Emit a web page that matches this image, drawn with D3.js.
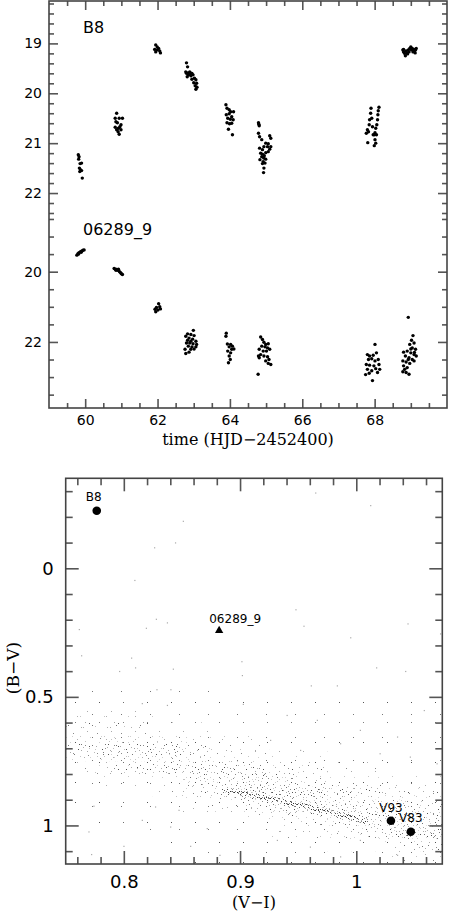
<!DOCTYPE html>
<html>
<head>
<meta charset="utf-8">
<script src="https://d3js.org/d3.v7.min.js"></script>
<style>
  body { margin: 0; background: #fff; }
  .tick text { font-family: "DejaVu Sans", sans-serif; fill: #000; }
  .tick line { stroke: #555; stroke-width: 1.6; }
  .domain { display: none; }
</style>
</head>
<body>
<script>

// ---- light curves (time HJD-2452400, magnitude) ----
var b8 = [
  [59.81,21.23],[59.83,21.27],[59.82,21.32],[59.86,21.41],[59.9,21.4],[59.84,21.5],[59.87,21.53],[59.85,21.57],[59.9,21.55],[59.92,21.7],
  [60.87,20.4],[60.83,20.5],[60.94,20.5],[61.03,20.5],[60.85,20.57],[60.89,20.59],[60.99,20.63],[60.83,20.68],[60.92,20.7],[60.96,20.67],[60.87,20.73],[60.99,20.73],[60.91,20.77],[60.94,20.82],
  [61.95,19.03],[61.99,19.07],[62.03,19.1],[61.92,19.12],[61.99,19.13],[62.06,19.15],[61.95,19.17],[62.08,19.19],
  [62.8,19.39],[62.83,19.47],[62.78,19.57],[62.84,19.59],[62.89,19.57],[62.95,19.6],[62.85,19.63],[62.92,19.65],[62.98,19.63],[62.82,19.67],[63.02,19.7],[62.95,19.72],[63.06,19.73],[63.0,19.79],[63.08,19.8],[63.04,19.85],[63.09,19.88],[63.06,19.92],[62.87,19.61],[62.9,19.62],[62.93,19.6],[62.8,19.6],
  [63.89,20.23],[63.92,20.3],[63.98,20.33],[64.02,20.37],[64.1,20.37],[63.9,20.43],[63.98,20.41],[64.05,20.47],[63.94,20.5],[64.01,20.52],[64.09,20.53],[63.92,20.59],[63.99,20.61],[64.05,20.6],[63.96,20.72],[64.07,20.83],
  [64.79,20.59],[64.81,20.65],[64.79,20.8],[64.82,20.87],[64.88,20.93],[65.1,20.85],[65.13,20.9],[64.99,21.0],[65.06,21.01],[64.94,21.07],[65.04,21.07],[65.13,21.07],[64.82,21.1],[64.9,21.13],[65.1,21.12],[64.85,21.2],[64.99,21.19],[65.06,21.17],[64.88,21.27],[64.94,21.3],[64.83,21.33],[64.92,21.37],[64.99,21.32],[64.9,21.41],[64.97,21.4],[64.94,21.5],[64.93,21.59],[64.8,20.62],[64.9,21.22],[64.95,21.25],
  [67.9,20.3],[67.89,20.4],[67.92,20.5],[67.86,20.53],[67.85,20.63],[67.8,20.73],[67.83,20.77],[67.77,20.8],[67.81,20.99],[67.94,20.67],[67.96,20.83],
  [68.12,20.28],[68.1,20.35],[68.09,20.43],[68.08,20.53],[68.06,20.63],[68.03,20.7],[68.01,20.79],[67.99,20.83],[68.05,20.83],[68.01,20.93],[67.99,21.05],[68.03,21.0],
  [68.78,19.13],[68.8,19.17],[68.83,19.2],[68.85,19.25],[68.87,19.15],[68.9,19.19],[68.93,19.13],[68.97,19.1],[69.0,19.07],[69.02,19.13],[69.06,19.17],[69.09,19.12],[69.13,19.13],[69.15,19.1],[69.12,19.19],[68.95,19.17],[68.91,19.21],[68.8,19.12],[69.04,19.1],[69.1,19.15]
];

var s06289 = [
  [59.77,19.53],[59.8,19.49],[59.83,19.46],[59.87,19.43],[59.91,19.41],[59.94,19.39],[59.97,19.38],[59.82,19.5],[59.89,19.45],
  [60.8,19.91],[60.84,19.93],[60.87,19.94],[60.89,19.95],[60.92,19.97],[60.95,20.0],[60.98,20.03],[61.0,20.06],[61.03,20.08],[60.85,19.96],[60.92,19.93],
  [62.03,20.91],[61.97,21.02],[62.06,21.0],[61.93,21.07],[62.01,21.09],[62.08,21.06],[61.95,21.14],
  [62.99,21.67],[62.83,21.77],[62.92,21.79],[63.01,21.82],[62.78,21.84],[62.87,21.89],[62.97,21.92],[62.83,21.95],[62.92,21.98],[63.06,21.98],[62.8,22.03],[62.89,22.03],[62.98,22.05],[63.08,22.07],[62.85,22.12],[62.95,22.14],[63.06,22.14],[62.76,22.21],[62.92,22.21],[63.01,22.2],[62.78,22.33],[62.87,22.29],
  [63.9,21.75],[63.89,21.84],[63.93,22.06],[64.02,22.07],[64.07,22.12],[64.11,22.2],[63.98,22.14],[63.94,22.26],[64.02,22.31],[63.98,22.4],[64.01,22.5],[63.96,22.59],[64.05,22.21],
  [64.85,21.86],[64.9,21.93],[64.94,22.01],[64.99,22.07],[65.06,22.05],[64.88,22.12],[64.97,22.14],[65.04,22.17],[64.81,22.21],[64.92,22.26],[65.01,22.26],[65.1,22.21],[64.79,22.4],[64.85,22.36],[64.94,22.4],[65.04,22.42],[65.08,22.5],[64.99,22.54],[65.06,22.61],[65.13,22.64],[64.81,22.45],[64.78,22.92],
  [68.01,22.07],[67.8,22.36],[67.86,22.4],[67.96,22.38],[68.05,22.31],[67.83,22.5],[67.92,22.48],[68.01,22.54],[68.1,22.5],[67.77,22.64],[67.86,22.66],[67.98,22.68],[68.12,22.64],[67.8,22.78],[67.92,22.82],[68.03,22.76],[68.14,22.78],[67.75,22.93],[67.85,22.89],[67.94,23.1],[68.08,22.87],
  [68.93,21.3],[69.06,21.82],[69.02,21.95],[69.09,22.03],[68.97,22.07],[69.04,22.17],[69.13,22.21],[68.9,22.26],[69.0,22.31],[69.09,22.36],[69.15,22.4],[68.8,22.29],[68.85,22.4],[68.95,22.45],[69.04,22.5],[68.78,22.54],[68.87,22.57],[68.97,22.61],[69.09,22.54],[68.8,22.68],[68.9,22.73],[68.78,22.85],[68.87,22.87],[68.95,22.92],[68.83,22.78],[69.0,22.2],[69.1,22.3],[68.93,22.5]
];

var timeMajor = [60, 62, 64, 66, 68];
var mag1Major = [19, 20, 21, 22];
var mag2Major = [20, 22];

// ---- colour-colour diagram ----
var stars = [
  { name: "B8",      vi: 0.7767, bv: -0.224, shape: "circle",   dx: -3, dy: -10 },
  { name: "06289_9", vi: 0.882,  bv: 0.242,  shape: "triangle", dx: 16, dy: -8 },
  { name: "V93",     vi: 1.0298, bv: 0.982,  shape: "circle",   dx: 0,  dy: -8.5 },
  { name: "V83",     vi: 1.0469, bv: 1.0245, shape: "circle",   dx: 0,  dy: -9.5 }
];

// density of the field-star cloud, bins of 0.025 in V-I and 0.05 in B-V (0-9)
var cloudVI = [0.75,0.775,0.8,0.825,0.85,0.875,0.9,0.925,0.95,0.975,1.0,1.025,1.05,1.075];
var cloudBV = [0.45,0.5,0.55,0.6,0.65,0.7,0.75,0.8,0.85,0.9,0.95,1.0,1.05,1.1,1.15];
var cloudDensity = [
  [1,1,1,1,1,0,0,0,0,0,0,0,0],
  [1,1,1,1,1,1,1,1,1,1,1,1,1],
  [2,2,2,1,1,1,1,1,1,1,1,1,1],
  [3,3,3,2,2,1,1,1,1,1,1,1,1],
  [4,5,4,4,3,2,2,1,1,1,1,1,1],
  [4,5,5,5,4,3,3,2,2,1,1,1,1],
  [2,3,4,5,5,5,4,3,3,2,2,1,1],
  [1,2,2,3,5,5,6,5,4,3,3,2,2],
  [1,1,1,2,3,5,7,6,6,5,4,3,3],
  [1,1,1,1,2,3,4,6,6,6,5,5,4],
  [0,1,1,1,1,1,2,3,4,5,6,6,5],
  [0,0,1,1,1,1,1,2,2,3,4,6,6],
  [0,0,0,1,1,1,1,1,1,2,2,3,4],
  [0,0,0,0,1,1,1,1,1,1,1,2,2]
];

// dense sequence running through the cloud
var ridgeVI = [0.888, 0.91, 0.94, 0.97, 1.0, 1.01];
var ridgeBV = [0.862, 0.882, 0.91, 0.94, 0.975, 0.985];

// scattered field stars outside the cloud
var fieldVI = [0.9646,1.0119,0.8507,0.844,0.826,0.809,0.9476,0.9545,1.044,0.837,0.8275,0.8189,0.7612,0.9947,0.7632,0.8062,0.8421,0.9011,0.7959,0.8096,1.017,1.042,0.9608,0.9832,0.828,0.84,1.072,0.9015,
  0.7738,0.8154,0.837,0.9023,0.7695,0.7996,0.8713,0.8822,0.857,0.8268,0.847,0.8154,0.7718,0.8398,
  0.94,0.966,1.003,1.035,1.058,0.986,0.9516,1.046,1.069,0.9258,1.02,0.96,0.986,1.035,1.003,0.9316];
var fieldBV = [-0.295,-0.246,-0.185,-0.101,-0.082,0.045,0.159,0.223,0.214,0.21,0.196,0.231,0.236,0.268,0.338,0.347,0.39,0.361,0.399,0.385,0.385,0.399,0.455,0.455,0.47,0.47,0.253,0.415,
  0.923,0.524,0.531,0.527,1.023,1.079,1.01,1.114,1.079,0.926,0.939,0.978,1.111,1.004,
  0.57,0.589,0.628,0.654,0.551,0.68,0.706,0.732,0.758,0.667,0.719,1.082,1.12,1.114,1.056,1.056];

var cmdXMajor = [0.8, 0.9, 1.0];
var cmdYMajor = [0, 0.5, 1];

var w = 450, h = 913;
var svg = d3.select("body").append("svg")
  .attr("width", w)
  .attr("height", h)
  .style("display", "block");

function near(a, list) { return list.some(function(v) { return Math.abs(v - a) < 1e-6; }); }

// ---------------- light curves ----------------
var tx = d3.scaleLinear().domain([59, 70]).range([49, 447]);
var y1 = d3.scaleLinear().domain([18.15, 22.4]).range([1, 213]);
var y2 = d3.scaleLinear().domain([18.33, 23.88]).range([213, 408]);

var timeMinor = d3.range(119, 140).map(function(i) { return i / 2; }).filter(function(v) { return !near(v, timeMajor); });
var mag1Minor = d3.range(91, 113).map(function(i) { return i / 5; }).filter(function(v) { return !near(v, mag1Major); });
var mag2Minor = d3.range(37, 48).map(function(i) { return i / 2; }).filter(function(v) { return !near(v, mag2Major); });

var lc = svg.append("g");
var fmtInt = d3.format("d");

// panel 1 (B8): y ticks on left/right, x ticks at the top
var p1 = lc.append("g");
p1.append("g").attr("transform", "translate(0,1)")
  .call(d3.axisTop(tx).tickValues(timeMinor).tickSize(-5).tickFormat(""));
p1.append("g").attr("transform", "translate(0,1)")
  .call(d3.axisTop(tx).tickValues(timeMajor).tickSize(-9).tickFormat(""));
[[d3.axisLeft, 49, true], [d3.axisRight, 447, false]].forEach(function(a) {
  p1.append("g").attr("transform", "translate(" + a[1] + ",0)")
    .call(a[0](y1).tickValues(mag1Minor).tickSize(-5).tickFormat(""));
  p1.append("g").attr("transform", "translate(" + a[1] + ",0)")
    .call(a[0](y1).tickValues(mag1Major).tickSize(-9).tickPadding(7).tickFormat(a[2] ? fmtInt : ""))
    .selectAll("text").style("font-size", "14px");
});

// panel 2 (06289_9): y ticks left/right, x ticks at the bottom
var p2 = lc.append("g");
p2.append("g").attr("transform", "translate(0,408)")
  .call(d3.axisBottom(tx).tickValues(timeMinor).tickSize(-5).tickFormat(""));
p2.append("g").attr("transform", "translate(0,408)")
  .call(d3.axisBottom(tx).tickValues(timeMajor).tickSize(-9).tickPadding(7).tickFormat(fmtInt))
  .selectAll("text").style("font-size", "14px");
[[d3.axisLeft, 49, true], [d3.axisRight, 447, false]].forEach(function(a) {
  p2.append("g").attr("transform", "translate(" + a[1] + ",0)")
    .call(a[0](y2).tickValues(mag2Minor).tickSize(-5).tickFormat(""));
  p2.append("g").attr("transform", "translate(" + a[1] + ",0)")
    .call(a[0](y2).tickValues(mag2Major).tickSize(-9).tickPadding(7).tickFormat(a[2] ? fmtInt : ""))
    .selectAll("text").style("font-size", "14px");
});
lc.selectAll(".domain").remove();

lc.append("rect")
  .attr("x", 49).attr("y", 1).attr("width", 398).attr("height", 407)
  .attr("fill", "none").attr("stroke", "#444").attr("stroke-width", 1.6);

lc.append("g").selectAll("circle").data(b8).enter().append("circle")
  .attr("cx", function(d) { return tx(d[0]); })
  .attr("cy", function(d) { return y1(d[1]); })
  .attr("r", 1.7).attr("fill", "#000");

lc.append("g").selectAll("circle").data(s06289).enter().append("circle")
  .attr("cx", function(d) { return tx(d[0]); })
  .attr("cy", function(d) { return y2(d[1]); })
  .attr("r", 1.7).attr("fill", "#000");

lc.append("text").attr("x", 83).attr("y", 32.5).text("B8")
  .style("font-family", "DejaVu Sans").style("font-size", "16px");
lc.append("text").attr("x", 83).attr("y", 235).text("06289_9")
  .style("font-family", "DejaVu Sans").style("font-size", "16px");

lc.append("text").attr("x", 248).attr("y", 445).attr("text-anchor", "middle")
  .text("time (HJD\u22122452400)")
  .style("font-family", "DejaVu Serif").style("font-size", "16px");

// ---------------- colour-colour diagram ----------------
var cx = d3.scaleLinear().domain([0.75, 1.074]).range([65.7, 442.3]);
var cy = d3.scaleLinear().domain([-0.35, 1.15]).range([478.3, 864]);

var defs = svg.append("defs");
defs.append("clipPath").attr("id", "cmdclip").append("rect")
  .attr("x", 65.7).attr("y", 478.3).attr("width", 376.6).attr("height", 385.7);

// speckle textures for the cloud: two tiles of different size so the grain doesn't line up
var speckA = [[3,2],[15,11],[8,16],[20,5],[11,7],[1,13],[18,17],[6,9],[22,12],[13,1],
  [9,4],[17,8],[4,18],[21,1],[12,14],[0,6],[15,19],[7,12],[19,10],[2,16],
  [10,10],[23,15],[5,5],[14,4],[16,14],[8,0],[20,19],[1,9],[12,18],[18,3],
  [6,14],[22,7],[10,2],[3,11],[16,11],[13,8],[7,19],[21,16],[0,3],[11,16]];
var speckB = [[5,1],[19,3],[27,9],[12,6],[2,10],[23,14],[8,13],[16,18],[26,21],[1,19],
  [14,0],[21,8],[6,6],[10,20],[18,12],[28,2],[3,15],[24,18],[11,10],[17,22],
  [7,3],[25,5],[13,15],[0,7],[20,20],[9,17],[15,9],[22,1],[4,22],[27,13],
  [18,5],[2,3],[11,2],[24,10],[6,18],[14,21],[20,15],[8,9],[26,17],[16,13]];
var speckGrey = ["#555", "#aaa", "#c4c4c4", "#777", "#b0b0b0", "#8a8a8a", "#d0d0d0"];
var ridgeGrey = ["#333", "#666", "#888", "#4a4a4a"];
var levelCount = [0, 1, 3, 7, 12, 18, 25, 32, 38, 40];

function speckPattern(id, pts, pw, ph, n, shift, greys) {
  var p = defs.append("pattern").attr("id", id)
    .attr("patternUnits", "userSpaceOnUse").attr("width", pw).attr("height", ph);
  p.selectAll("rect").data(pts.slice(0, n)).enter().append("rect")
    .attr("x", function(d) { return d[0]; }).attr("y", function(d) { return d[1]; })
    .attr("width", 1).attr("height", 1)
    .attr("fill", function(d, i) { return greys[(i + shift) % greys.length]; });
}
d3.range(1, 10).forEach(function(k) {
  speckPattern("spA" + k, speckA, 24, 20, levelCount[k], 0, speckGrey);
  speckPattern("spB" + k, speckB, 29, 23, levelCount[k], 3, speckGrey);
});
speckPattern("spR", [[0,0],[4,1],[7,3],[2,3],[5,5],[8,0],[1,5],[6,2],[3,0],[7,5]], 9, 6, 10, 0, ridgeGrey);

var cmd = svg.append("g");
var cloud = cmd.append("g").attr("clip-path", "url(#cmdclip)");

var cells = [];
cloudDensity.forEach(function(row, i) {
  row.forEach(function(v, j) {
    if (v > 0) cells.push({ i: i, j: j, v: v });
  });
});
["spA", "spB"].forEach(function(pid) {
  cloud.append("g").selectAll("rect").data(cells).enter().append("rect")
    .attr("x", function(d) { return cx(cloudVI[d.j]); })
    .attr("y", function(d) { return cy(cloudBV[d.i]); })
    .attr("width", function(d) { return cx(cloudVI[d.j + 1]) - cx(cloudVI[d.j]); })
    .attr("height", function(d) { return cy(cloudBV[d.i + 1]) - cy(cloudBV[d.i]); })
    .attr("fill", function(d) { return "url(#" + pid + d.v + ")"; });
});

cloud.append("path")
  .datum(d3.zip(ridgeVI, ridgeBV))
  .attr("d", d3.line().x(function(d) { return cx(d[0]); }).y(function(d) { return cy(d[1]); }))
  .attr("fill", "none").attr("stroke", "url(#spR)").attr("stroke-width", 5);

cloud.append("g").selectAll("rect").data(d3.zip(fieldVI, fieldBV)).enter().append("rect")
  .attr("x", function(d) { return cx(d[0]); })
  .attr("y", function(d) { return cy(d[1]); })
  .attr("width", 1.2).attr("height", 1.2).attr("fill", "#aaa");

var cmdXMinor = d3.range(38, 54).map(function(i) { return i * 0.02; }).filter(function(v) { return !near(v, cmdXMajor); });
var cmdYMinor = d3.range(-3, 12).map(function(i) { return i / 10; }).filter(function(v) { return !near(v, cmdYMajor); });

[[d3.axisBottom, 864], [d3.axisTop, 478.3]].forEach(function(a, k) {
  cmd.append("g").attr("transform", "translate(0," + a[1] + ")")
    .call(a[0](cx).tickValues(cmdXMinor).tickSize(-7).tickFormat(""));
  cmd.append("g").attr("transform", "translate(0," + a[1] + ")")
    .call(a[0](cx).tickValues(cmdXMajor).tickSize(-13).tickPadding(11).tickFormat(k == 0 ? String : ""))
    .selectAll("text").style("font-size", "18px");
});
[[d3.axisLeft, 65.7], [d3.axisRight, 442.3]].forEach(function(a, k) {
  cmd.append("g").attr("transform", "translate(" + a[1] + ",0)")
    .call(a[0](cy).tickValues(cmdYMinor).tickSize(-7).tickFormat(""));
  cmd.append("g").attr("transform", "translate(" + a[1] + ",0)")
    .call(a[0](cy).tickValues(cmdYMajor).tickSize(-13).tickPadding(12).tickFormat(k == 0 ? String : ""))
    .selectAll("text").style("font-size", "18px");
});
cmd.selectAll(".domain").remove();

cmd.append("rect")
  .attr("x", 65.7).attr("y", 478.3).attr("width", 376.6).attr("height", 385.7)
  .attr("fill", "none").attr("stroke", "#444").attr("stroke-width", 1.6);

var mk = cmd.append("g").selectAll("g").data(stars).enter().append("g")
  .attr("transform", function(d) { return "translate(" + cx(d.vi) + "," + cy(d.bv) + ")"; });
mk.append("path")
  .attr("d", function(d) {
    return d.shape == "triangle"
      ? d3.symbol().type(d3.symbolTriangle).size(30)()
      : d3.symbol().type(d3.symbolCircle).size(58)();
  })
  .attr("fill", "#000");
mk.append("text")
  .attr("x", function(d) { return d.dx; })
  .attr("y", function(d) { return d.dy; })
  .attr("text-anchor", "middle")
  .text(function(d) { return d.name; })
  .style("font-family", "DejaVu Sans").style("font-size", "12px");

cmd.append("text").attr("x", 254).attr("y", 908).attr("text-anchor", "middle")
  .text("(V\u2212I)")
  .style("font-family", "DejaVu Serif").style("font-size", "16px");
cmd.append("text").attr("transform", "translate(19,668) rotate(-90)")
  .attr("text-anchor", "middle")
  .text("(B\u2212V)")
  .style("font-family", "DejaVu Serif").style("font-size", "17px");

</script>
</body>
</html>
